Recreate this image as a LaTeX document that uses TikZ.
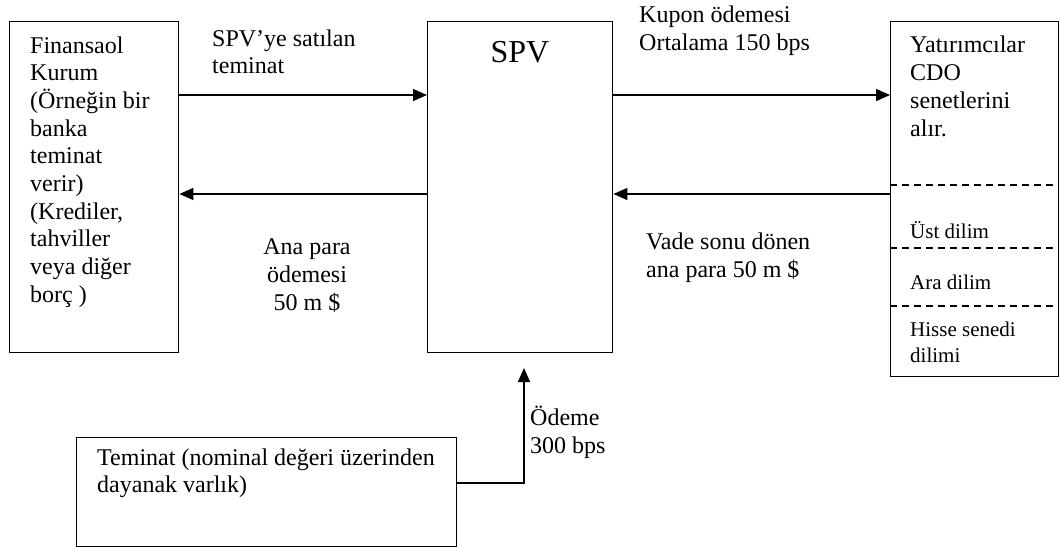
\documentclass[tikz,border=0pt]{standalone}
\usepackage{fontspec}
\setmainfont{Liberation Serif}
\usetikzlibrary{arrows.meta}
\begin{document}
\begin{tikzpicture}[x=1pt,y=-1pt,
  box/.style={draw, line width=1.4pt, inner sep=0pt, anchor=north west},
  lbl/.style={inner sep=0pt, anchor=base west, align=left, font=\fontsize{24}{27.7}\selectfont},
  clbl/.style={inner sep=0pt, anchor=base, align=center, font=\fontsize{24}{27.7}\selectfont},
  small/.style={inner sep=0pt, anchor=base west, align=left, font=\fontsize{21}{26}\selectfont},
  conn/.style={line width=1.4pt, -{Triangle[length=14pt,width=12pt]}},
  sep/.style={line width=1.2pt, dash pattern=on 7pt off 5pt}]
\useasboundingbox (0,0) rectangle (1061,547);
% boxes
\node[box, minimum width=169pt, minimum height=331pt] (fin) at (9,21) {};
\node[box, minimum width=185pt, minimum height=331pt] (spv) at (427,21) {};
\node[box, minimum width=168pt, minimum height=355pt] (inv) at (890,21) {};
\node[box, minimum width=380pt, minimum height=109pt] (tem) at (76,437) {};
% box texts (anchor = baseline of last line)
\node[lbl] (fint) at (30,302.3) {Finansaol\\Kurum\\(Örneğin bir\\banka\\teminat\\verir)\\(Krediler,\\tahviller\\veya diğer\\borç )};
\node[inner sep=0pt, anchor=base, font=\fontsize{32}{36}\selectfont] (spvt) at (520,62) {SPV};
\node[lbl] (invt) at (910,136) {Yatırımcılar\\CDO\\senetlerini\\alır.};
\node[small] (ust) at (910,238) {Üst dilim};
\node[small] (ara) at (910,289) {Ara dilim};
\node[small] (his) at (910,362) {Hisse senedi\\dilimi};
\node[lbl] (temt) at (97,492.7) {Teminat (nominal değeri üzerinden\\dayanak varlık)};
% tranche separators
\coordinate (d1) at (0,185);
\coordinate (d2) at (0,248);
\coordinate (d3) at (0,306);
\draw[sep] (inv.west |- d1) -- (inv.east |- d1);
\draw[sep] (inv.west |- d2) -- (inv.east |- d2);
\draw[sep] (inv.west |- d3) -- (inv.east |- d3);
% arrows
\coordinate (top) at (0,95);
\coordinate (bot) at (0,194);
\draw[conn] (fin.east |- top) -- (spv.west |- top);
\draw[conn] (spv.east |- top) -- (inv.west |- top);
\draw[conn] (spv.west |- bot) -- (fin.east |- bot);
\draw[conn] (inv.west |- bot) -- (spv.east |- bot);
\coordinate (turn) at (524,483);
\coordinate (tip) at (524,368);
\draw[conn] (tem.east |- turn) -- (turn) -- (tip);
% arrow labels
\node[lbl] (l1) at (212,73.7) {SPV’ye satılan\\teminat};
\node[clbl] (l2) at (307,310) {Ana para\\ödemesi\\50 m \$};
\node[lbl] (l3) at (639,50) {Kupon ödemesi\\Ortalama 150 bps};
\node[lbl] (l4) at (646,277) {Vade sonu dönen\\ana para 50 m \$};
\node[lbl] (l5) at (530,453) {Ödeme\\300 bps};
\end{tikzpicture}
\end{document}
